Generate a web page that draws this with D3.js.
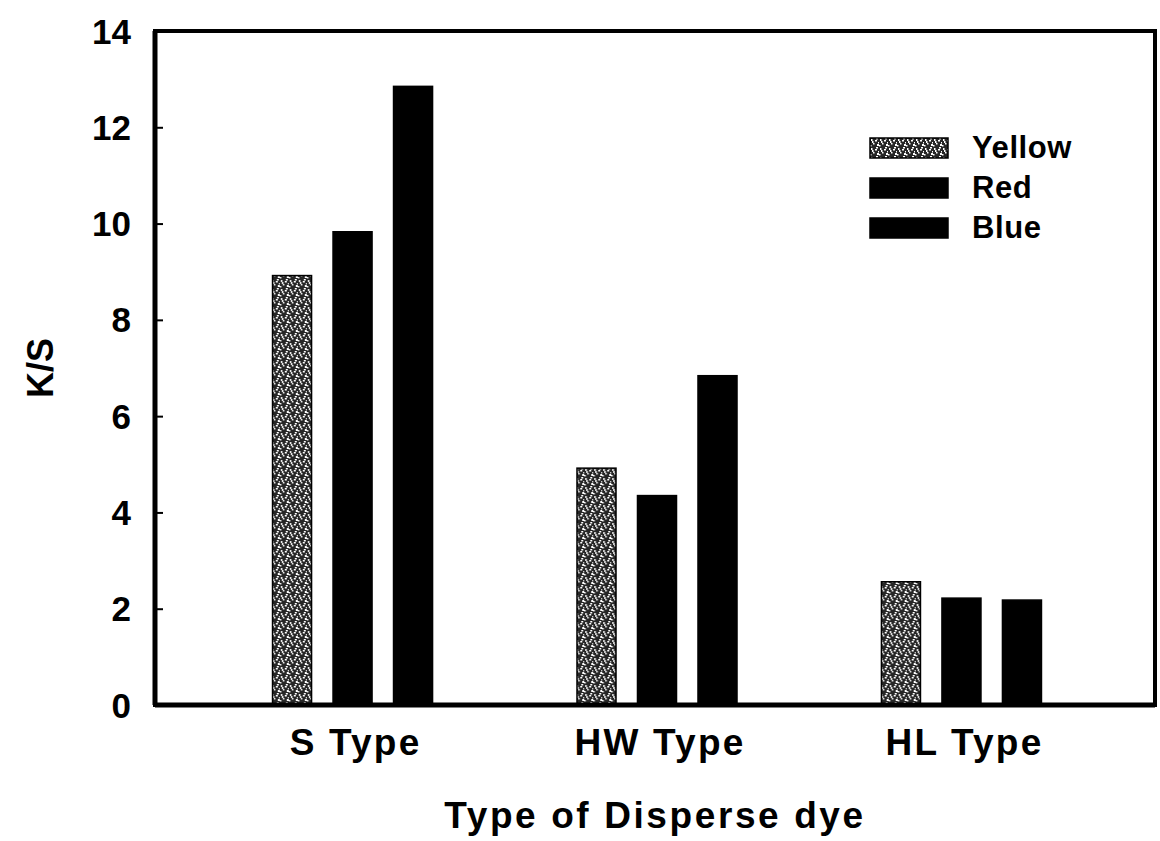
<!DOCTYPE html>
<html>

<head>
    <meta charset="UTF-8">
    <style>
        body { margin: 0; background: #fff; }
        svg { display: block; }
        .lbl { font-family: Arial, "Liberation Sans", sans-serif; font-weight: bold; fill: #000; }
    </style>
    <title>K/S by dye type</title>
</head>

<body>
    <svg></svg>
    <script src="https://d3js.org/d3.v7.min.js"></script>
    <script>
        let width = 1160, height = 841;

        // data
        const categories = ["S Type", "HW Type", "HL Type"];
        const series = ["Yellow", "Red", "Blue"];
        const yellow = [8.92, 4.92, 2.56];
        const red = [9.83, 4.35, 2.22];
        const blue = [12.85, 6.84, 2.18];
        const yTicks = [0, 2, 4, 6, 8, 10, 12, 14];

        const values = { Yellow: yellow, Red: red, Blue: blue };

        let margin = { top: 31, right: 5, bottom: 136, left: 155 };

        let svg = d3.select("svg")
            .attr("width", width)
            .attr("height", height)
            .attr("viewBox", "0 0 " + width + " " + height);

        // stipple pattern for the yellow bars
        let defs = svg.append("defs");
        let pat = defs.append("pattern")
            .attr("id", "stipple")
            .attr("patternUnits", "userSpaceOnUse")
            .attr("width", 9).attr("height", 9);
        pat.append("rect").attr("width", 9).attr("height", 9).attr("fill", "#262626");
        [[1, 1], [5, 2], [3, 5], [7, 6], [0, 7], [6, 0], [2, 3], [8, 4]].forEach(function (p, i) {
            pat.append("rect")
                .attr("x", p[0]).attr("y", p[1])
                .attr("width", i % 2 ? 2 : 1.5).attr("height", i % 3 ? 1.5 : 2)
                .attr("fill", "#fff");
        });

        const y = d3.scaleLinear()
            .domain([0, 14])
            .range([height - margin.bottom, margin.top]);

        const x0 = d3.scaleBand()
            .domain(categories)
            .range([margin.left + 3, width - margin.right + 1])
            .paddingInner(0)
            .paddingOuter(0.139);

        const x1 = d3.scaleBand()
            .domain(series)
            .range([0, 181.5])
            .paddingInner(0.355)
            .paddingOuter(0.1775);

        const fills = { Yellow: "url(#stipple)", Red: "#000", Blue: "#000" };

        // bars
        let groups = svg.append("g")
            .selectAll("g")
            .data(categories)
            .enter()
            .append("g")
            .attr("transform", function (d) {
                return "translate(" + (x0(d) + x0.bandwidth() / 2 - 90.75) + ",0)";
            });

        groups.selectAll("rect")
            .data(function (d, i) {
                return series.map(function (s) { return { key: s, value: values[s][i] }; });
            })
            .enter()
            .append("rect")
            .attr("x", function (d) { return x1(d.key); })
            .attr("width", x1.bandwidth())
            .attr("y", function (d) { return y(d.value); })
            .attr("height", function (d) { return y(0) - y(d.value); })
            .attr("fill", function (d) { return fills[d.key]; })
            .attr("stroke", "#000")
            .attr("stroke-width", 1.5);

        // y axis with inward ticks
        let yAxis = svg.append("g")
            .attr("transform", "translate(" + margin.left + ",0)")
            .call(d3.axisRight(y).tickValues(yTicks).tickSize(8).tickFormat(""));
        yAxis.select(".domain").remove();
        yAxis.selectAll("line").attr("stroke", "#000").attr("stroke-width", 2);

        svg.append("g")
            .selectAll("text")
            .data(yTicks)
            .enter()
            .append("text")
            .attr("class", "lbl")
            .attr("x", margin.left - 24)
            .attr("y", function (d) { return y(d); })
            .attr("dy", "0.36em")
            .attr("text-anchor", "end")
            .style("font-size", "35px")
            .text(function (d) { return d; });

        // frame
        svg.append("rect")
            .attr("x", margin.left)
            .attr("y", margin.top)
            .attr("width", width - margin.right - margin.left)
            .attr("height", height - margin.bottom - margin.top)
            .attr("fill", "none")
            .attr("stroke", "#000")
            .attr("stroke-width", 4);
        svg.append("line")
            .attr("x1", margin.left).attr("x2", margin.left)
            .attr("y1", margin.top).attr("y2", height - margin.bottom)
            .attr("stroke", "#000").attr("stroke-width", 5);
        svg.append("line")
            .attr("x1", margin.left).attr("x2", width - margin.right)
            .attr("y1", height - margin.bottom).attr("y2", height - margin.bottom)
            .attr("stroke", "#000").attr("stroke-width", 5);

        // category labels
        svg.append("g")
            .selectAll("text")
            .data(categories)
            .enter()
            .append("text")
            .attr("class", "lbl")
            .attr("x", function (d) { return x0(d) + x0.bandwidth() / 2 + 3; })
            .attr("y", 755)
            .attr("text-anchor", "middle")
            .style("font-size", "37px")
            .style("letter-spacing", "2.2px")
            .text(function (d) { return d; });

        // axis titles
        svg.append("text")
            .attr("class", "lbl")
            .attr("x", 655)
            .attr("y", 828)
            .attr("text-anchor", "middle")
            .style("font-size", "37px")
            .style("letter-spacing", "2.6px")
            .text("Type of Disperse dye");

        svg.append("text")
            .attr("class", "lbl")
            .attr("transform", "translate(53,368) rotate(-90)")
            .attr("text-anchor", "middle")
            .style("font-size", "36px")
            .text("K/S");

        // legend
        let legend = svg.append("g")
            .selectAll("g")
            .data(series)
            .enter()
            .append("g")
            .attr("transform", function (d, i) { return "translate(870," + (138 + i * 40) + ")"; });
        legend.append("rect")
            .attr("width", 78)
            .attr("height", 20)
            .attr("fill", function (d) { return fills[d]; })
            .attr("stroke", "#000")
            .attr("stroke-width", 1.5);
        legend.append("text")
            .attr("class", "lbl")
            .attr("x", 102)
            .attr("y", 20)
            .style("font-size", "31px")
            .style("letter-spacing", "0.6px")
            .text(function (d) { return d; });
    </script>
</body>

</html>
